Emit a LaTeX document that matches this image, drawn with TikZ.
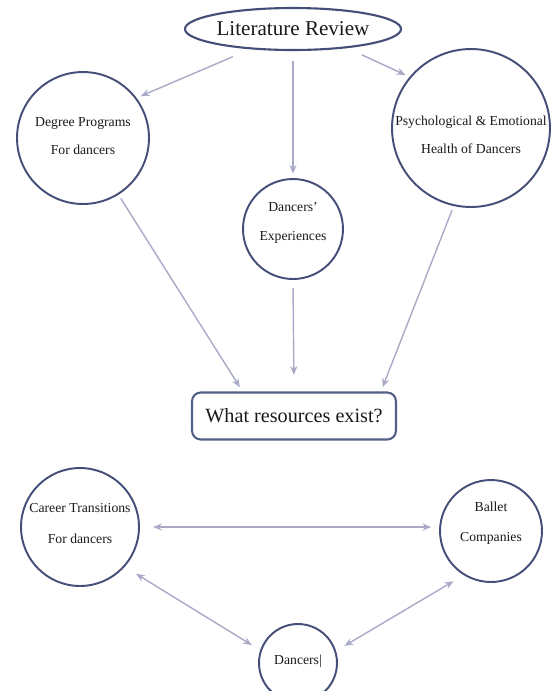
\documentclass[tikz,border=0pt]{standalone}
\usepackage{fontspec}
\setmainfont{Liberation Serif}
\usetikzlibrary{shapes.geometric,arrows.meta}

\definecolor{ringblue}{RGB}{68,78,120}
\definecolor{boxblue}{RGB}{82,96,135}
\definecolor{linkgray}{RGB}{168,170,198}
\definecolor{inkgray}{RGB}{25,25,25}

\begin{document}
\begin{tikzpicture}[x=0.02cm, y=-0.02cm,
    topic/.style={circle, draw=ringblue, line width=1.1pt, inner sep=0pt, outer sep=3pt},
    caption/.style={align=center, text=inkgray, font=\fontsize{7.8}{16}\selectfont},
    link/.style={draw=linkgray, line width=0.8pt, -{Stealth[length=5pt,width=4pt]}},
    twoway/.style={link, {Stealth[length=5pt,width=4pt]}-{Stealth[length=5pt,width=4pt]}}
  ]
  \clip (0,0) rectangle (553,691);

  % top part
  \node[ellipse, draw=ringblue, line width=1.2pt, inner sep=0pt, outer sep=3pt,
        minimum width=3.32cm, minimum height=0.84cm, text=inkgray,
        font=\fontsize{12}{14}\selectfont] (lit) at (293,29) {Literature Review};
  \node[topic, minimum size=2.64cm,
        label={[caption, yshift=1pt]center:{Degree Programs\\For dancers}}] (deg) at (83,138) {};
  \node[topic, minimum size=3.16cm,
        label={[caption, yshift=-4pt]center:{Psychological \& Emotional\\Health of Dancers}}] (psy) at (471,128) {};
  \node[topic, minimum size=2.0cm,
        label={[caption, yshift=3.5pt]center:{Dancers’\\Experiences}}] (dexp) at (293,229) {};
  \node[rectangle, rounded corners=5pt, draw=boxblue, line width=1.2pt, outer sep=3pt,
        minimum width=4.08cm, minimum height=0.94cm, text=inkgray,
        font=\fontsize{11.5}{14}\selectfont] (res) at (294,416) {What resources exist?};

  \draw[link, shorten <=6pt] (lit.205) -- (deg.36);
  \draw[link, shorten <=3pt] (lit.south) -- (dexp.north);
  \draw[link, shorten <=5pt] (lit.340) -- (psy.141);
  \draw[link] (deg.-58) -- (res.152);
  \draw[link, shorten <=2pt, shorten >=7pt] (dexp.south) -- (res.north);
  \draw[link] (psy.257) -- (res.18);

  % bottom part
  \node[topic, minimum size=2.36cm,
        label={[caption, yshift=2pt, font=\fontsize{7.8}{17.5}\selectfont]center:{Career Transitions\\For dancers}}] (car) at (80,527) {};
  \node[topic, minimum size=2.04cm,
        label={[caption, yshift=4.5pt, font=\fontsize{7.8}{17.5}\selectfont]center:{Ballet\\Companies}}] (bal) at (491,531) {};
  \node[topic, minimum size=1.56cm,
        label={[caption, yshift=1pt]center:{Dancers|}}] (dan) at (298,663) {};

  \draw[twoway, shorten <=5pt, shorten >=2pt] (car.east) -- (car.east -| bal.west);
  \draw[twoway, shorten <=5pt, shorten >=3pt] (car.-41) -- (dan.160);
  \draw[twoway, shorten <=4pt, shorten >=3pt] (bal.236) -- (dan.19);
\end{tikzpicture}
\end{document}
